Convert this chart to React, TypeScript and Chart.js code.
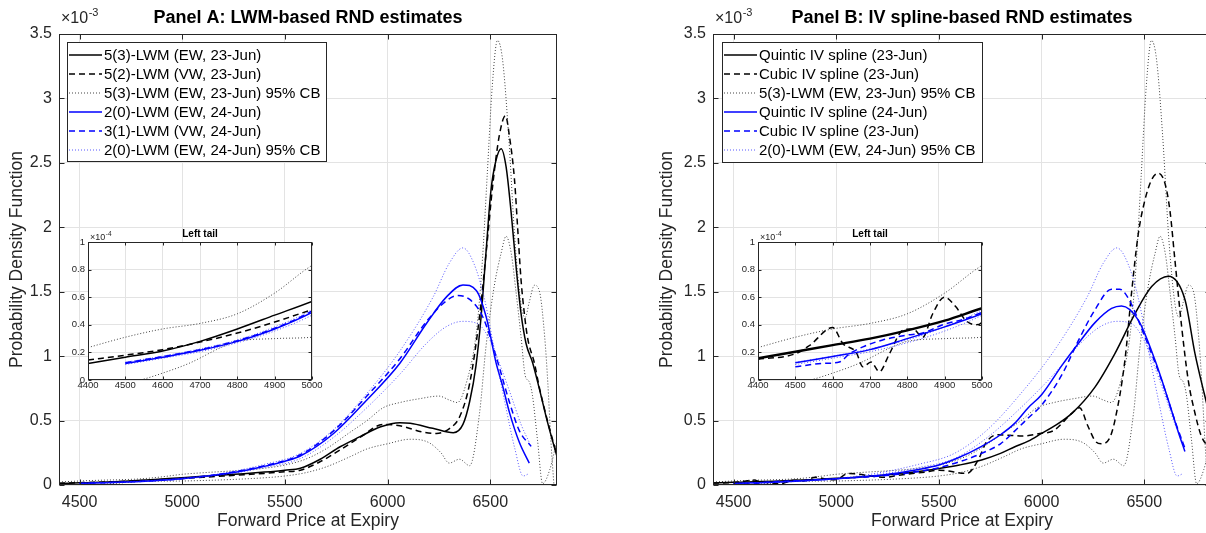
import React, { useEffect, useRef } from 'react';
import { Chart, registerables } from 'chart.js';

Chart.register(...registerables);

const FONT = '"Liberation Sans", Arial, Helvetica, sans-serif';
const AXIS = '#262626';
const GRID = '#e3e3e3';

// ---------- ticks / ranges ----------
const mainXTicks = [4500, 5000, 5500, 6000, 6500];
const mainYTicks = [0, 0.5, 1, 1.5, 2, 2.5, 3, 3.5];
const insetXTicks = [4400, 4500, 4600, 4700, 4800, 4900, 5000];
const insetYTicks = [0, 0.2, 0.4, 0.6, 0.8, 1];
const mainXRange = [4400, 6825];
const mainYRange = [0, 3.5];
const insetXRange = [4400, 5000];
const insetYRange = [0, 1];

// ---------- data (PDF values in units of 1e-3) ----------
// Panel A: 5(3)-LWM (EW, 23-Jun)
const aEw23X = [4400, 4500, 4600, 4700, 4800, 4900, 5000, 5100, 5200, 5300, 5400, 5500, 5575, 5672, 5769, 5866, 5963, 6060, 6110, 6220, 6320, 6367, 6400, 6430, 6455, 6480, 6503, 6528, 6553, 6577, 6602, 6626, 6650, 6674, 6707, 6740, 6780, 6825];
const aEw23Y = [0.012, 0.0165, 0.021, 0.028, 0.037, 0.047, 0.057, 0.068, 0.078, 0.088, 0.1, 0.115, 0.13, 0.2, 0.297, 0.375, 0.45, 0.484, 0.479, 0.44, 0.406, 0.47, 0.65, 0.92, 1.3, 1.82, 2.28, 2.52, 2.61, 2.47, 2.11, 1.69, 1.33, 1.1, 0.945, 0.74, 0.48, 0.22];
// Panel A: 5(2)-LWM (VW, 23-Jun)
const aVw23X = [4400, 4500, 4600, 4700, 4800, 4900, 5000, 5100, 5200, 5300, 5400, 5500, 5575, 5672, 5769, 5866, 5979, 6060, 6173, 6238, 6303, 6351, 6400, 6448, 6481, 6513, 6545, 6574, 6594, 6618, 6634, 6650, 6666, 6682, 6715, 6740, 6780, 6825];
const aVw23Y = [0.0145, 0.018, 0.022, 0.0275, 0.034, 0.042, 0.051, 0.06, 0.07, 0.08, 0.09, 0.103, 0.115, 0.181, 0.272, 0.37, 0.47, 0.46, 0.41, 0.4, 0.44, 0.53, 0.79, 1.31, 1.82, 2.34, 2.72, 2.865, 2.7, 2.37, 1.98, 1.59, 1.33, 1.14, 0.945, 0.75, 0.49, 0.23];
// 5(3)-LWM (EW, 23-Jun) 95% CB (upper / lower)
const cbEw23UpX = [4400, 4500, 4600, 4700, 4800, 4900, 5000, 5100, 5200, 5300, 5400, 5500, 5600, 5700, 5818, 5900, 5979, 6060, 6157, 6250, 6300, 6340, 6383, 6432, 6460, 6485, 6510, 6535, 6560, 6590, 6620, 6650, 6670, 6690, 6715, 6740, 6765, 6780, 6795, 6810];
const cbEw23UpY = [0.0235, 0.031, 0.037, 0.041, 0.048, 0.063, 0.083, 0.095, 0.105, 0.115, 0.13, 0.155, 0.2, 0.28, 0.41, 0.5, 0.6, 0.64, 0.67, 0.69, 0.66, 0.64, 0.79, 1.18, 1.7, 2.4, 3.1, 3.45, 3.3, 2.7, 1.9, 1.4, 1.3, 1.42, 1.55, 1.5, 1.15, 0.8, 0.35, 0.0];
const cbEw23LoX = [4400, 4450, 4500, 4540, 4600, 4670, 4760, 4800, 4900, 5000, 5100, 5200, 5300, 5400, 5500, 5600, 5700, 5818, 5900, 6000, 6110, 6200, 6260, 6300, 6350, 6400, 6448, 6479, 6519, 6553, 6577, 6602, 6626, 6650, 6670, 6690, 6705, 6730, 6755, 6790, 6825];
const cbEw23LoY = [-0.008, -0.005, -0.002, 0, 0.005, 0.012, 0.024, 0.028, 0.03, 0.031, 0.035, 0.04, 0.047, 0.056, 0.07, 0.095, 0.14, 0.22, 0.28, 0.32, 0.355, 0.33, 0.25, 0.17, 0.2, 0.15, 0.56, 1.07, 1.54, 1.8, 1.93, 1.8, 1.49, 1.15, 0.85, 0.8, 0.7, 0.35, 0.01, 0.12, 0.35];
// Panel A: 2(0)-LWM (EW, 24-Jun)
const aEw24X = [4500, 4600, 4700, 4800, 4900, 5000, 5100, 5200, 5300, 5400, 5500, 5575, 5737, 5899, 6060, 6190, 6287, 6367, 6432, 6481, 6528, 6560, 6594, 6642, 6690];
const aEw24Y = [0.012, 0.0165, 0.0215, 0.028, 0.037, 0.049, 0.065, 0.085, 0.11, 0.145, 0.185, 0.225, 0.4, 0.66, 0.945, 1.255, 1.46, 1.553, 1.51, 1.3, 0.95, 0.77, 0.56, 0.33, 0.17];
// Panel A: 3(1)-LWM (VW, 24-Jun)
const aVw24X = [4500, 4600, 4700, 4800, 4900, 5000, 5200, 5400, 5575, 5737, 5899, 6060, 6190, 6287, 6340, 6400, 6465, 6528, 6594, 6642, 6699];
const aVw24Y = [0.0125, 0.017, 0.022, 0.0285, 0.0375, 0.05, 0.088, 0.15, 0.235, 0.42, 0.69, 0.98, 1.27, 1.43, 1.47, 1.44, 1.3, 1.0, 0.64, 0.42, 0.3];
// 2(0)-LWM (EW, 24-Jun) 95% CB (upper / lower)
const cbEw24UpX = [4500, 4600, 4700, 4800, 4900, 5000, 5200, 5400, 5575, 5737, 5899, 6060, 6222, 6300, 6367, 6420, 6471, 6520, 6570, 6620, 6660, 6690];
const cbEw24UpY = [0.0128, 0.0173, 0.0225, 0.029, 0.0385, 0.051, 0.092, 0.16, 0.245, 0.43, 0.71, 1.04, 1.46, 1.72, 1.84, 1.72, 1.45, 1.05, 0.65, 0.28, 0.07, 0.09];
const cbEw24LoX = [4500, 4600, 4700, 4800, 4900, 5000, 5200, 5400, 5575, 5737, 5899, 6060, 6190, 6287, 6367, 6440, 6500, 6550, 6600, 6650, 6690];
const cbEw24LoY = [0.0112, 0.0158, 0.0205, 0.027, 0.0355, 0.047, 0.08, 0.135, 0.205, 0.37, 0.6, 0.86, 1.1, 1.23, 1.27, 1.25, 1.12, 0.92, 0.7, 0.47, 0.33];
// Panel B: Quintic IV spline (23-Jun)
const bQuin23X = [4400, 4500, 4600, 4700, 4800, 4900, 5000, 5100, 5200, 5300, 5400, 5500, 5600, 5708, 5800, 5870, 5935, 6000, 6065, 6150, 6260, 6357, 6455, 6536, 6617, 6698, 6747, 6792, 6825];
const bQuin23Y = [0.0157, 0.0205, 0.0253, 0.03, 0.036, 0.043, 0.052, 0.06, 0.072, 0.088, 0.105, 0.128, 0.155, 0.194, 0.245, 0.297, 0.34, 0.4, 0.46, 0.56, 0.76, 1.02, 1.33, 1.54, 1.62, 1.44, 1.02, 0.71, 0.5];
// Panel B: Cubic IV spline (23-Jun)
const bCub23X = [4400, 4500, 4538, 4600, 4627, 4663, 4681, 4703, 4725, 4752, 4788, 4815, 4841, 4868, 4899, 4930, 4957, 4984, 5000, 5062, 5100, 5236, 5300, 5432, 5500, 5637, 5693, 5730, 5786, 5854, 5903, 5991, 6056, 6150, 6185, 6225, 6262, 6290, 6330, 6357, 6406, 6438, 6471, 6503, 6536, 6568, 6601, 6625, 6649, 6682, 6714, 6747, 6779, 6825];
const bCub23Y = [0.015, 0.019, 0.025, 0.038, 0.0265, 0.02, 0.0096, 0.013, 0.006, 0.019, 0.036, 0.037, 0.031, 0.048, 0.06, 0.053, 0.043, 0.04, 0.042, 0.09, 0.085, 0.06, 0.075, 0.1, 0.115, 0.09, 0.2, 0.33, 0.39, 0.385, 0.38, 0.4, 0.42, 0.56, 0.6, 0.46, 0.34, 0.32, 0.36, 0.5, 0.97, 1.49, 1.95, 2.21, 2.37, 2.42, 2.34, 2.13, 1.75, 1.23, 0.815, 0.557, 0.375, 0.28];
// Panel B: Quintic IV spline (24-Jun)
const bQuin24X = [4500, 4600, 4700, 4800, 4900, 5000, 5100, 5200, 5300, 5400, 5500, 5600, 5708, 5800, 5870, 5935, 6000, 6100, 6180, 6260, 6341, 6389, 6471, 6552, 6617, 6666, 6698];
const bQuin24Y = [0.0125, 0.017, 0.022, 0.03, 0.0385, 0.048, 0.06, 0.073, 0.094, 0.12, 0.155, 0.215, 0.3, 0.39, 0.48, 0.6, 0.7, 0.93, 1.1, 1.26, 1.37, 1.39, 1.28, 0.97, 0.66, 0.41, 0.26];
// Panel B: Cubic IV spline (blue)
const bCub24X = [4500, 4573, 4618, 4645, 4681, 4734, 4797, 4841, 4895, 4957, 5000, 5100, 5200, 5300, 5400, 5500, 5600, 5700, 5800, 5870, 5935, 6000, 6097, 6179, 6260, 6341, 6380, 6422, 6503, 6584, 6649, 6698];
const bCub24Y = [0.0096, 0.012, 0.013, 0.019, 0.024, 0.029, 0.0325, 0.034, 0.04, 0.0445, 0.049, 0.058, 0.068, 0.083, 0.105, 0.135, 0.18, 0.24, 0.32, 0.42, 0.52, 0.62, 0.85, 1.12, 1.36, 1.52, 1.52, 1.45, 1.15, 0.815, 0.5, 0.285];

// ---------- texts ----------
const titleA = 'Panel A: LWM-based RND estimates';
const titleB = 'Panel B: IV spline-based RND estimates';
const xLabel = 'Forward Price at Expiry';
const yLabel = 'Probability Density Function';
const insetTitle = 'Left tail';
const legendLabelsA = ['5(3)-LWM (EW, 23-Jun)', '5(2)-LWM (VW, 23-Jun)', '5(3)-LWM (EW, 23-Jun) 95% CB', '2(0)-LWM (EW, 24-Jun)', '3(1)-LWM (VW, 24-Jun)', '2(0)-LWM (EW, 24-Jun) 95% CB'];
const legendLabelsB = ['Quintic IV spline (23-Jun)', 'Cubic IV spline (23-Jun)', '5(3)-LWM (EW, 23-Jun) 95% CB', 'Quintic IV spline (24-Jun)', 'Cubic IV spline (23-Jun)', '2(0)-LWM (EW, 24-Jun) 95% CB'];

// ---------- styles ----------
type Sty = { color: string; width: number; dash: number[] };
const S_BLACK: Sty = { color: '#000000', width: 1.5, dash: [] };
const S_BLACK_DASH: Sty = { color: '#000000', width: 1.5, dash: [6, 4] };
const S_GRAY_DOT: Sty = { color: 'rgba(20,20,20,0.8)', width: 1, dash: [1, 2] };
const S_BLUE: Sty = { color: '#0000ff', width: 1.5, dash: [] };
const S_BLUE_DASH: Sty = { color: '#0000ff', width: 1.5, dash: [6, 4] };
const S_BLUE_DOT: Sty = { color: 'rgba(30,30,255,0.75)', width: 1, dash: [1, 2] };
const S_BLACK_THICK: Sty = { color: '#000000', width: 2.4, dash: [] };
const legendStyles = [S_BLACK, S_BLACK_DASH, S_GRAY_DOT, S_BLUE, S_BLUE_DASH, S_BLUE_DOT];

type Series = [number[], number[], Sty];
const seriesA: Series[] = [
  [aEw23X, aEw23Y, S_BLACK],
  [aVw23X, aVw23Y, S_BLACK_DASH],
  [cbEw23UpX, cbEw23UpY, S_GRAY_DOT],
  [cbEw23LoX, cbEw23LoY, S_GRAY_DOT],
  [aEw24X, aEw24Y, S_BLUE],
  [aVw24X, aVw24Y, S_BLUE_DASH],
  [cbEw24UpX, cbEw24UpY, S_BLUE_DOT],
  [cbEw24LoX, cbEw24LoY, S_BLUE_DOT],
];
const seriesB: Series[] = [
  [bQuin23X, bQuin23Y, S_BLACK],
  [bCub23X, bCub23Y, S_BLACK_DASH],
  [cbEw23UpX, cbEw23UpY, S_GRAY_DOT],
  [cbEw23LoX, cbEw23LoY, S_GRAY_DOT],
  [bQuin24X, bQuin24Y, S_BLUE],
  [bCub24X, bCub24Y, S_BLUE_DASH],
  [cbEw24UpX, cbEw24UpY, S_BLUE_DOT],
  [cbEw24LoX, cbEw24LoY, S_BLUE_DOT],
];
const seriesBInset: Series[] = seriesB.map((s, i) => (i === 0 ? [s[0], s[1], S_BLACK_THICK] : s));

function buildDatasets(series: Series[], k: number) {
  // Chart.js draws dataset 0 last (on top); reverse so later series are on top
  return series
    .map(([xs, ys, st]) => ({
      data: xs.map((x, i) => ({ x, y: ys[i] * k })),
      borderColor: st.color,
      borderWidth: st.width,
      borderDash: st.dash,
      pointRadius: 0,
      fill: false,
      cubicInterpolationMode: 'monotone',
      capBezierPoints: false,
    }))
    .reverse();
}

type Frame = {
  whiteBg: boolean;
  tickLen: number;
  xTicks: number[];
  yTicks: number[];
  title?: string;
  titleSize: number;
  titleBold: boolean;
  titleDy: number;
  expPow: string;
  expSize: number;
  expPowSize: number;
  expDy: number;
  legend?: { x0: number; y0: number; x1: number; y1: number; rows: number[]; labels: string[]; font: number };
};

function framePlugin(f: Frame) {
  return {
    id: 'frame',
    beforeDraw(chart: any) {
      if (!f.whiteBg) return;
      const { ctx, chartArea: a } = chart;
      ctx.save();
      ctx.fillStyle = '#ffffff';
      ctx.fillRect(a.left, a.top, a.right - a.left, a.bottom - a.top);
      ctx.restore();
    },
    afterDraw(chart: any) {
      const { ctx, chartArea: a, scales } = chart;
      ctx.save();
      ctx.strokeStyle = AXIS;
      ctx.lineWidth = 1;
      ctx.setLineDash([]);
      const L = Math.round(a.left) + 0.5, R = Math.round(a.right) - 0.5;
      const T = Math.round(a.top) + 0.5, B = Math.round(a.bottom) - 0.5;
      ctx.strokeRect(L, T, R - L, B - T);
      ctx.beginPath();
      for (const v of f.xTicks) {
        const px = Math.round(scales.x.getPixelForValue(v)) + 0.5;
        ctx.moveTo(px, B); ctx.lineTo(px, B - f.tickLen);
        ctx.moveTo(px, T); ctx.lineTo(px, T + f.tickLen);
      }
      for (const v of f.yTicks) {
        const py = Math.round(scales.y.getPixelForValue(v)) + 0.5;
        ctx.moveTo(L, py); ctx.lineTo(L + f.tickLen, py);
        ctx.moveTo(R, py); ctx.lineTo(R - f.tickLen, py);
      }
      ctx.stroke();

      // title
      if (f.title) {
        ctx.fillStyle = '#000000';
        ctx.font = `${f.titleBold ? 'bold ' : ''}${f.titleSize}px ${FONT}`;
        ctx.textAlign = 'center';
        ctx.textBaseline = 'middle';
        ctx.fillText(f.title, (a.left + a.right) / 2, a.top - f.titleDy);
      }
      // exponent label
      ctx.fillStyle = AXIS;
      ctx.textAlign = 'left';
      ctx.textBaseline = 'alphabetic';
      ctx.font = `${f.expSize}px ${FONT}`;
      const base = '\u00d710';
      const ex = a.left + 2;
      const ey = a.top - f.expDy;
      ctx.fillText(base, ex, ey);
      const w = ctx.measureText(base).width;
      ctx.font = `${f.expPowSize}px ${FONT}`;
      ctx.fillText(f.expPow, ex + w + 0.5, ey - f.expSize * 0.42);

      // legend
      const lg = f.legend;
      if (lg) {
        ctx.fillStyle = '#ffffff';
        ctx.fillRect(lg.x0, lg.y0, lg.x1 - lg.x0, lg.y1 - lg.y0);
        ctx.strokeStyle = AXIS;
        ctx.lineWidth = 1;
        ctx.strokeRect(lg.x0 + 0.5, lg.y0 + 0.5, lg.x1 - lg.x0, lg.y1 - lg.y0);
        lg.labels.forEach((label, i) => {
          const st = legendStyles[i];
          const y = lg.rows[i];
          ctx.strokeStyle = st.color;
          ctx.lineWidth = st.width;
          ctx.setLineDash(st.dash);
          ctx.beginPath();
          ctx.moveTo(lg.x0 + 2, y);
          ctx.lineTo(lg.x0 + 35, y);
          ctx.stroke();
          ctx.setLineDash([]);
          ctx.fillStyle = '#000000';
          ctx.font = `${lg.font}px ${FONT}`;
          ctx.textAlign = 'left';
          ctx.textBaseline = 'middle';
          ctx.fillText(label, lg.x0 + 37, y + 0.5);
        });
      }
      ctx.restore();
    },
  };
}

type Opts = {
  datasets: any[];
  xRange: number[];
  yRange: number[];
  xTicks: number[];
  yTicks: number[];
  padding: { left: number; right: number; top: number; bottom: number };
  yW: number;
  xH: number;
  tickFont: number;
  xPad: number;
  yPad: number;
  axisTitles: boolean;
  labelFont: number;
  frame: Frame;
};

function makeChart(canvas: HTMLCanvasElement, o: Opts) {
  const tickCfg = (pad: number) => ({
    font: { family: FONT, size: o.tickFont },
    color: AXIS,
    padding: pad,
    autoSkip: false,
    maxRotation: 0,
    minRotation: 0,
    callback: (v: any) => String(v),
  });
  return new Chart(canvas, {
    type: 'line',
    data: { datasets: o.datasets as any },
    options: {
      animation: false,
      responsive: false,
      devicePixelRatio: 1,
      events: [],
      layout: { autoPadding: false, padding: o.padding } as any,
      plugins: { legend: { display: false }, tooltip: { enabled: false }, title: { display: false } },
      scales: {
        x: {
          type: 'linear',
          min: o.xRange[0],
          max: o.xRange[1],
          afterBuildTicks: (s: any) => { s.ticks = o.xTicks.map((v) => ({ value: v })); },
          afterFit: (s: any) => { s.height = o.xH; },
          grid: { color: GRID, lineWidth: 1, drawTicks: false },
          border: { display: false },
          ticks: tickCfg(o.xPad) as any,
          title: o.axisTitles
            ? { display: true, text: xLabel, font: { family: FONT, size: o.labelFont }, color: AXIS, padding: { top: 0, bottom: 1 } }
            : { display: false },
        },
        y: {
          type: 'linear',
          min: o.yRange[0],
          max: o.yRange[1],
          afterBuildTicks: (s: any) => { s.ticks = o.yTicks.map((v) => ({ value: v })); },
          afterFit: (s: any) => { s.width = o.yW; },
          grid: { color: GRID, lineWidth: 1, drawTicks: false },
          border: { display: false },
          ticks: tickCfg(o.yPad) as any,
          title: o.axisTitles
            ? { display: true, text: yLabel, font: { family: FONT, size: o.labelFont }, color: AXIS, padding: { top: 0, bottom: 0 } }
            : { display: false },
        },
      },
    } as any,
    plugins: [framePlugin(o.frame) as any],
  });
}

const legendRows = [55, 74, 93, 112, 131, 150];

export default function App() {
  const aRef = useRef<HTMLCanvasElement>(null);
  const bRef = useRef<HTMLCanvasElement>(null);
  const aiRef = useRef<HTMLCanvasElement>(null);
  const biRef = useRef<HTMLCanvasElement>(null);

  useEffect(() => {
    const mainFrame = (title: string, legend: any): Frame => ({
      whiteBg: false,
      tickLen: 5,
      xTicks: mainXTicks,
      yTicks: mainYTicks,
      title,
      titleSize: 18,
      titleBold: true,
      titleDy: 16,
      expPow: '-3',
      expSize: 16,
      expPowSize: 11,
      expDy: 11,
      legend,
    });
    const insetFrame = (): Frame => ({
      whiteBg: true,
      tickLen: 3,
      xTicks: insetXTicks,
      yTicks: insetYTicks,
      title: insetTitle,
      titleSize: 10,
      titleBold: true,
      titleDy: 8,
      expPow: '-4',
      expSize: 9,
      expPowSize: 6.5,
      expDy: 2,
    });
    const charts = [
      makeChart(aRef.current!, {
        datasets: buildDatasets(seriesA, 1),
        xRange: mainXRange, yRange: mainYRange, xTicks: mainXTicks, yTicks: mainYTicks,
        padding: { left: 6.5, right: 43, top: 34, bottom: 0 },
        yW: 52.5, xH: 48, tickFont: 16, xPad: 8, yPad: 7, axisTitles: true, labelFont: 17.5,
        frame: mainFrame(titleA, { x0: 67, y0: 42, x1: 326, y1: 161, rows: legendRows, labels: legendLabelsA, font: 15 }),
      }),
      makeChart(bRef.current!, {
        datasets: buildDatasets(seriesB, 1),
        xRange: mainXRange, yRange: mainYRange, xTicks: mainXTicks, yTicks: mainYTicks,
        padding: { left: 6.5, right: 9, top: 34, bottom: 0 },
        yW: 56.5, xH: 48, tickFont: 16, xPad: 8, yPad: 7, axisTitles: true, labelFont: 17.5,
        frame: mainFrame(titleB, { x0: 72, y0: 42, x1: 332, y1: 162, rows: legendRows, labels: legendLabelsB, font: 15 }),
      }),
      makeChart(aiRef.current!, {
        datasets: buildDatasets(seriesA, 10),
        xRange: insetXRange, yRange: insetYRange, xTicks: insetXTicks, yTicks: insetYTicks,
        padding: { left: 0, right: 18, top: 20, bottom: 0 },
        yW: 48, xH: 17, tickFont: 9.5, xPad: 0, yPad: 3, axisTitles: false, labelFont: 9,
        frame: insetFrame(),
      }),
      makeChart(biRef.current!, {
        datasets: buildDatasets(seriesBInset, 10),
        xRange: insetXRange, yRange: insetYRange, xTicks: insetXTicks, yTicks: insetYTicks,
        padding: { left: 0, right: 18, top: 20, bottom: 0 },
        yW: 48, xH: 17, tickFont: 9.5, xPad: 0, yPad: 3, axisTitles: false, labelFont: 9,
        frame: insetFrame(),
      }),
    ];
    return () => charts.forEach((c) => c.destroy());
  }, []);

  return (
    <div style={{ position: 'fixed', left: 0, top: 0, width: 1206, height: 533, overflow: 'hidden', background: '#ffffff' }}>
      <canvas ref={aRef} width={600} height={533} style={{ position: 'absolute', left: 0, top: 0 }} />
      <canvas ref={bRef} width={570} height={533} style={{ position: 'absolute', left: 650, top: 0 }} />
      <canvas ref={aiRef} width={290} height={175} style={{ position: 'absolute', left: 40, top: 222 }} />
      <canvas ref={biRef} width={290} height={175} style={{ position: 'absolute', left: 710, top: 222 }} />
    </div>
  );
}
